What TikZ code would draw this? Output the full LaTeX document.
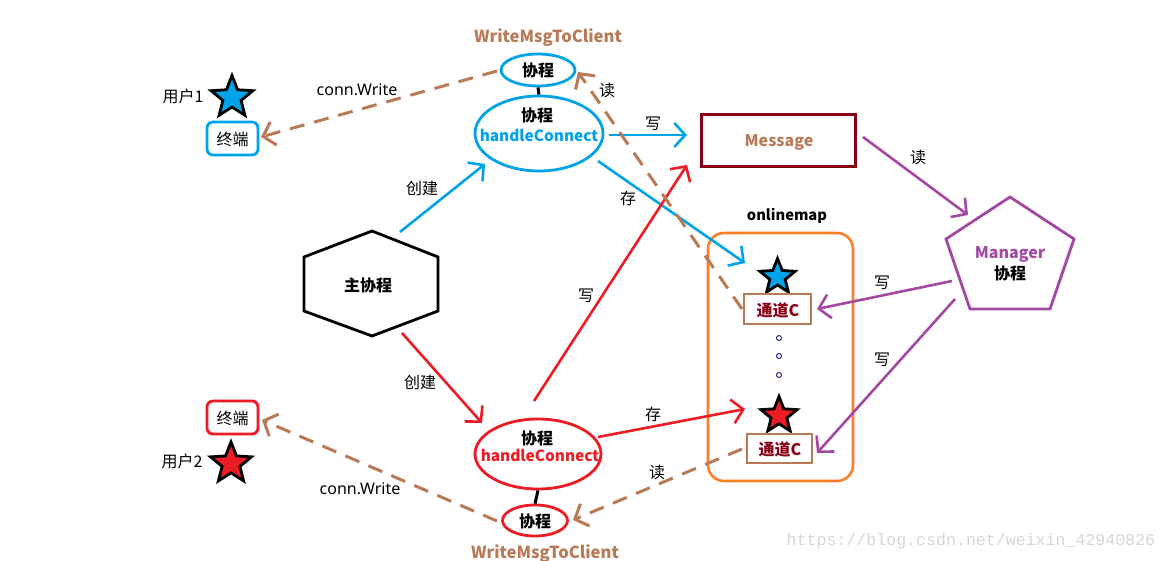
\documentclass[tikz,border=0pt]{standalone}
\usepackage{fontspec}
\setmainfont{Noto Sans CJK SC}
\newfontfamily\latin{Noto Sans}
\newfontfamily\wmfont{Liberation Mono}
\usetikzlibrary{shapes.geometric,arrows.meta}
\definecolor{pblue}{HTML}{00A2E8}
\definecolor{pred}{HTML}{ED1C24}
\definecolor{ppurple}{HTML}{A349A4}
\definecolor{pbrown}{HTML}{B97A57}
\definecolor{pdark}{HTML}{880015}
\definecolor{porange}{HTML}{FF7F27}
\definecolor{pnavy}{HTML}{1F2A7A}
\tikzset{
  txt/.style={inner sep=0pt, font=\fontsize{16}{18}\selectfont},
  btxt/.style={inner sep=0pt, font=\fontsize{16}{18}\selectfont\bfseries},
  ltxt/.style={inner sep=0pt, font=\fontsize{16}{18}\selectfont\latin},
  lbtxt/.style={inner sep=0pt, font=\fontsize{16}{18}\selectfont\bfseries},
  hctxt/.style={inner sep=0pt, font=\fontsize{15.4}{18}\selectfont\bfseries},
  wmtxt/.style={inner sep=0pt, text=pbrown, font=\fontsize{16.6}{18}\selectfont\bfseries},
  ell/.style={ellipse, draw, line width=2.8pt, inner sep=0pt},
  box/.style={rectangle, draw, line width=2.8pt, inner sep=0pt},
  starnode/.style={star, star points=5, star point ratio=2.3, draw=black, line width=2.8pt, inner sep=0pt},
  arr/.style={line width=2.6pt, -{Straight Barb[length=11pt,width=24pt]}},
  darr/.style={line width=3pt, draw=pbrown, dash pattern=on 15pt off 10pt, -{Straight Barb[length=11pt,width=24pt]}},
  dotnode/.style={circle, draw=pnavy, line width=1pt, minimum size=5pt, inner sep=0pt}
}
\begin{document}
\begin{tikzpicture}[x=1pt,y=-1pt]
\useasboundingbox (0,0) rectangle (1167,561);
\fill[white] (0,0) rectangle (1167,561);

% ---------- top (blue) client ----------
\node[wmtxt] (wlab1) at (548,38) {WriteMsgToClient};
\node[ell, draw=pblue, minimum width=74pt, minimum height=32pt] (wt1) at (538,70) {};
\node[btxt] (wt1t) at (538,70) {协程};
\node[ell, draw=pblue, minimum width=128pt, minimum height=75pt] (hc1) at (539,133.5) {};
\node[btxt] (hc1a) at (537,115) {协程};
\node[hctxt, text=pblue] (hc1b) at (539,135) {handleConnect};
\draw[line width=3pt] (wt1.south) -- (hc1.north);

\node[txt] (u1) at (183,96) {用户1};
\node[starnode, fill=pblue, minimum size=44pt] (s1) at (232,97.5) {};
\node[box, draw=pblue, rounded corners=6pt, minimum width=51pt, minimum height=33pt] (t1) at (232.5,138.5) {};
\node[txt] (t1t) at (232.5,139) {终端};

% ---------- bottom (red) client ----------
\node[ell, draw=pred, minimum width=126pt, minimum height=70pt] (hc2) at (538,454) {};
\node[btxt] (hc2a) at (537,438) {协程};
\node[hctxt, text=pred] (hc2b) at (540,455) {handleConnect};
\node[ell, draw=pred, minimum width=65pt, minimum height=31pt] (wt2) at (535,520.5) {};
\node[btxt] (wt2t) at (535,521) {协程};
\draw[line width=3pt] (hc2.south) -- (wt2.north);
\node[wmtxt] (wlab2) at (545,554) {WriteMsgToClient};

\node[box, draw=pred, rounded corners=6pt, minimum width=51pt, minimum height=33pt] (t2) at (232.5,417.5) {};
\node[txt] (t2t) at (232.5,418) {终端};
\node[txt] (u2) at (182,461) {用户2};
\node[starnode, fill=pred, minimum size=43pt] (s2) at (231,463.5) {};

% ---------- main coroutine ----------
\draw[line width=2.8pt] (372,231) -- (438,257) -- (438,311) -- (372,336) -- (304,311) -- (304,257) -- cycle;
\node[btxt] (main) at (368,285) {主协程};

% ---------- Message ----------
\node[box, draw=pdark, minimum width=154pt, minimum height=52pt] (msg) at (778.5,140.5) {};
\node[lbtxt, text=pbrown] (msgt) at (779,142) {Message};

% ---------- onlinemap ----------
\node[lbtxt, font=\fontsize{14.7}{18}\selectfont\bfseries] (omlab) at (787,216) {onlinemap};
\draw[porange, line width=2.6pt, rounded corners=16pt] (708,233) rectangle (853,481);
\node[starnode, fill=pblue, minimum size=37pt] (s3) at (777.5,277) {};
\node[box, draw=pbrown, minimum width=67pt, minimum height=30pt] (c1) at (777.5,309) {};
\node[btxt, text=pdark] (c1t) at (778,310) {通道C};
\node[dotnode] (d1) at (779,338) {};
\node[dotnode] (d2) at (779,356) {};
\node[dotnode] (d3) at (779,375) {};
\node[starnode, fill=pred, minimum size=38pt] (s4) at (779,415.5) {};
\node[box, draw=pbrown, minimum width=65pt, minimum height=29pt] (c2) at (779.5,448.5) {};
\node[btxt, text=pdark] (c2t) at (780,449) {通道C};

% ---------- Manager ----------
\draw[ppurple, line width=2.8pt] (1010,197) -- (1074,239) -- (1050,309) -- (970,309) -- (946,239) -- cycle;
\node[lbtxt, text=ppurple] (mgr) at (1010,254) {Manager};
\node[btxt] (mgr2) at (1010,273) {协程};

% ---------- connector end points ----------
\coordinate (a1s) at (400,232);  \coordinate (a1e) at (485,164);
\coordinate (a2s) at (402,333);  \coordinate (a2e) at (482,423);
\coordinate (a3s) at (609,135);  \coordinate (a3e) at (687,135);
\coordinate (a4s) at (598,161);  \coordinate (a4e) at (745,263);
\coordinate (a5s) at (534,401);  \coordinate (a5e) at (687,165);
\coordinate (a6s) at (598,437);  \coordinate (a6e) at (745,409);
\coordinate (a7s) at (863,137);  \coordinate (a7e) at (968,215);
\coordinate (a8s) at (952,281);  \coordinate (a8e) at (817,309);
\coordinate (a9s) at (955,299);  \coordinate (a9e) at (817,453);
\coordinate (b1s) at (742,309);  \coordinate (b1e) at (578,72);
\coordinate (b2s) at (742,449);  \coordinate (b2e) at (573,520);
\coordinate (b3s) at (497,71);   \coordinate (b3e) at (261,137);
\coordinate (b4s) at (497,521);  \coordinate (b4e) at (262,420);

% ---------- connectors ----------
\draw[arr, pblue] (a1s) -- (a1e);
\draw[arr, pred] (a2s) -- (a2e);
\draw[arr, pblue] (a3s) -- (a3e);
\draw[arr, pblue] (a4s) -- (a4e);
\draw[arr, pred] (a5s) -- (a5e);
\draw[arr, pred] (a6s) -- (a6e);
\draw[arr, ppurple] (a7s) -- (a7e);
\draw[arr, ppurple] (a8s) -- (a8e);
\draw[arr, ppurple] (a9s) -- (a9e);
\draw[darr] (b1s) -- (b1e);
\draw[darr] (b2s) -- (b2e);
\draw[darr] (b3s) -- (b3e);
\draw[darr] (b4s) -- (b4e);

% ---------- connector labels ----------
\node[txt] (l1) at (422,188) {创建};
\node[txt] (l2) at (420,382) {创建};
\node[txt] (l3) at (653,124) {写};
\node[txt] (l4) at (628,198) {存};
\node[txt] (l5) at (586,296) {写};
\node[txt] (l6) at (653,414) {存};
\node[txt] (l7) at (918,157) {读};
\node[txt] (l8) at (882,283) {写};
\node[txt] (l9) at (882,360) {写};
\node[txt] (l10) at (607,90) {读};
\node[txt] (l11) at (657,472) {读};
\node[ltxt] (l12) at (357,90) {conn.Write};
\node[ltxt] (l13) at (360,489) {conn.Write};

% ---------- watermark ----------
\node[inner sep=0pt, text=black!16, font=\fontsize{16.6}{18}\selectfont\wmfont] (wm) at (971,541) {https://blog.csdn.net/weixin\_42940826};
\end{tikzpicture}
\end{document}
